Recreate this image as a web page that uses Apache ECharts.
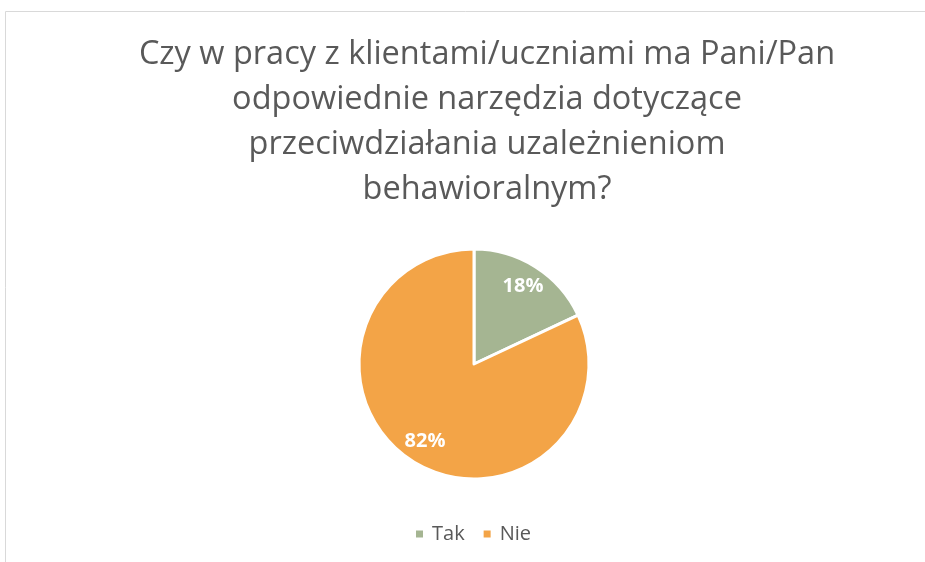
<!DOCTYPE html>
<html>
<head>
<meta charset="utf-8">
<script src="https://cdn.jsdelivr.net/npm/echarts@6/dist/echarts.min.js"></script>
<style>html,body{margin:0;padding:0;background:#fff}#c{width:925px;height:562px}</style>
</head>
<body>
<div id="c"></div>
<script>
const titleText = 'Czy w pracy z klientami/uczniami ma Pani/Pan\nodpowiednie narzędzia dotyczące\nprzeciwdziałania uzależnieniom\nbehawioralnym?';
const categories = ['Tak', 'Nie'];
const values = [18, 82];
const colors = ['#A5B592', '#F3A447'];

const chart = echarts.init(document.getElementById('c'), null, {renderer: 'canvas'});
const data = categories.map((n, i) => ({name: n, value: values[i], itemStyle: {color: colors[i]}}));
chart.setOption({
  animation: false,
  graphic: [{
    type: 'rect', shape: {x: 5.5, y: 11.5, width: 1000, height: 1000},
    style: {fill: 'none', stroke: '#d9d9d9', lineWidth: 1}, silent: true, z: -1
  }],
  title: {
    text: titleText, left: 482, textAlign: 'center', top: 27,
    textStyle: {fontFamily: 'Open Sans', fontSize: 32.5, fontWeight: 'normal', color: '#595959', lineHeight: 45}
  },
  legend: {
    data: categories, bottom: 13, left: 409, icon: 'rect', itemWidth: 9, itemHeight: 9, itemGap: 17,
    textStyle: {fontFamily: 'Open Sans', fontSize: 20, color: '#595959', padding: [0, 0, 0, 3]}
  },
  series: [{
    type: 'pie', center: [474, 364], radius: [0, 115], startAngle: 90, clockwise: true,
    itemStyle: {borderColor: '#fff', borderWidth: 3},
    label: {show: false}, labelLine: {show: false}, data: data
  }, {
    type: 'pie', center: [474, 364], radius: [62, 115], startAngle: 90, clockwise: true, silent: true,
    itemStyle: {color: 'transparent', borderWidth: 0},
    label: {show: true, position: 'inside', formatter: '{c}%', color: '#fff', fontFamily: 'Open Sans', fontWeight: 'bold', fontSize: 20},
    labelLine: {show: false},
    data: categories.map((n, i) => ({name: n, value: values[i], itemStyle: {color: 'transparent'}}))
  }]
});
</script>
</body>
</html>
